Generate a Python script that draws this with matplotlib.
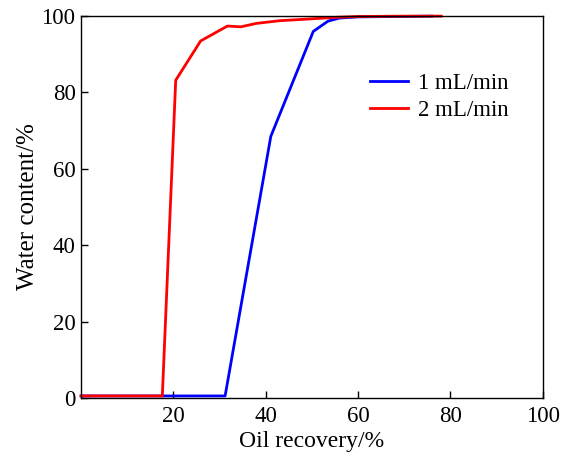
import matplotlib.pyplot as plt

plt.rcParams['font.family'] = ['Liberation Serif', 'DejaVu Serif']

# 1 mL/min
rec_1 = [0, 31.2, 41.1, 50.3, 53.5, 56.0, 60.0, 68.0, 76.0]
wc_1 = [0.5, 0.5, 68.5, 96.0, 98.7, 99.5, 99.8, 99.9, 100.0]
# 2 mL/min
rec_2 = [0, 17.6, 20.5, 25.9, 31.7, 34.6, 38.0, 43.0, 50.0, 55.3, 60.0, 70.0, 78.0]
wc_2 = [0.5, 0.5, 83.2, 93.5, 97.4, 97.2, 98.1, 98.8, 99.3, 99.7, 99.9, 100.0, 100.0]

xticks = [20, 40, 60, 80, 100]
yticks = [0, 20, 40, 60, 80, 100]

fig, ax = plt.subplots(figsize=(5.63, 4.61), dpi=100)
fig.subplots_adjust(left=0.144, right=0.964, top=0.965, bottom=0.137)

ax.plot(rec_1, wc_1, c='#0000ff', lw=2.0, label='1 mL/min', clip_on=False)
ax.plot(rec_2, wc_2, c='#ff0000', lw=2.0, label='2 mL/min', clip_on=False)

ax.set_xlim(0, 100)
ax.set_ylim(0, 100)
ax.set_xticks(xticks)
ax.set_yticks(yticks)
ax.tick_params(direction='in', labelsize=16.5, length=5, width=1)
ax.tick_params(axis='x', pad=6)
ax.tick_params(axis='y', pad=4)
for s in ax.spines.values():
    s.set_linewidth(1)

ax.set_xlabel('Oil recovery/%', fontsize=17, labelpad=3)
ax.set_ylabel('Water content/%', fontsize=18, labelpad=2)

ax.legend(loc='upper right', bbox_to_anchor=(0.97, 0.905), frameon=False,
          fontsize=16.5, handlelength=1.7, handletextpad=0.4, labelspacing=0.25)

plt.savefig('out.png')
